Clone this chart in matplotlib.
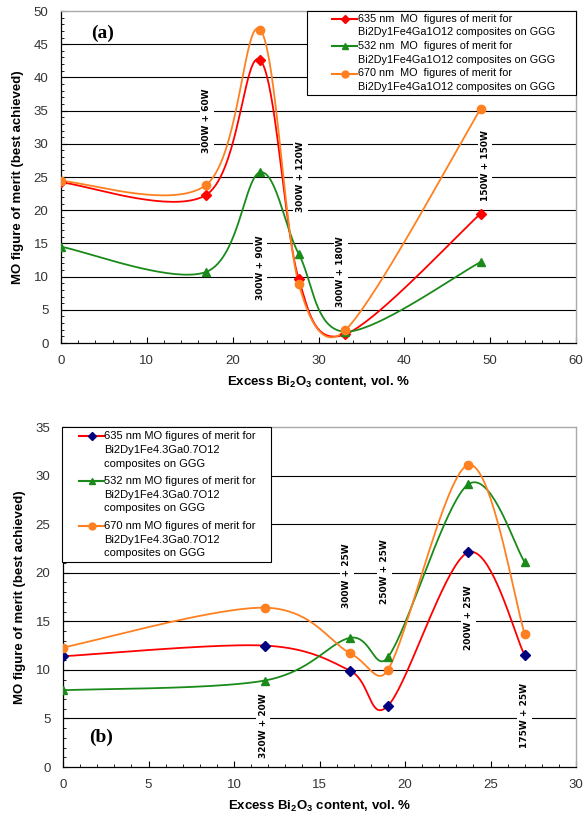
import numpy as np
import matplotlib
matplotlib.use("Agg")
import matplotlib.pyplot as plt
from matplotlib.patches import Rectangle
from matplotlib import font_manager

# ---------------- data ----------------
xa = [0, 16.9, 23.2, 27.7, 33.1, 48.9]
a635 = [24.2, 22.3, 42.6, 9.6, 1.3, 19.5]
a532 = [14.5, 10.7, 25.7, 13.4, 1.7, 12.2]
a670 = [24.4, 23.8, 47.2, 8.9, 1.9, 35.3]

xb = [0, 11.8, 16.8, 19.0, 23.7, 27.0]
b635 = [11.4, 12.5, 9.9, 6.3, 22.1, 11.5]
b532 = [7.9, 8.9, 13.3, 11.3, 29.1, 21.1]
b670 = [12.3, 16.4, 11.7, 10.0, 31.1, 13.7]

labels_a = [["635 nm  MO  figures of merit for", "Bi2Dy1Fe4Ga1O12 composites on GGG"],
            ["532 nm  MO  figures of merit for", "Bi2Dy1Fe4Ga1O12 composites on GGG"],
            ["670 nm  MO  figures of merit for", "Bi2Dy1Fe4Ga1O12 composites on GGG"]]
labels_b = [["635 nm MO figures of merit for", "Bi2Dy1Fe4.3Ga0.7O12", "composites on GGG"],
            ["532 nm MO figures of merit for", "Bi2Dy1Fe4.3Ga0.7O12", "composites on GGG"],
            ["670 nm MO figures of merit for", "Bi2Dy1Fe4.3Ga0.7O12", "composites on GGG"]]

ann_a = [("300W + 60W", 17.0, 33.4), ("300W + 120W", 27.9, 25.0),
         ("300W + 90W", 23.2, 11.3), ("300W + 180W", 32.6, 10.7),
         ("150W + 150W", 49.4, 26.7)]
ann_b = [("320W + 20W", 11.7, 4.3), ("300W + 25W", 16.6, 19.7),
         ("250W + 25W", 18.8, 20.1), ("200W + 25W", 23.7, 15.4),
         ("175W + 25W", 27.0, 5.3)]

RED = "#ff0000"
GREEN = "#1a8a1a"
ORANGE = "#ff8020"
NAVY = "#000080"

plt.rcParams['font.family'] = ['Liberation Sans', 'DejaVu Sans']
names = {f.name for f in font_manager.fontManager.ttflist}
TICKFONT = 'Liberation Sans Narrow' if 'Liberation Sans Narrow' in names else 'Liberation Sans'
TICKSIZE = 10.5 if TICKFONT == 'Liberation Sans Narrow' else 9.5

W, H = 584, 817


def smooth(ax, x, y, n=40):
    """Excel-style smoothed line (Bezier through points, computed in pixel space)."""
    pts = ax.transData.transform(np.column_stack([x, y]))
    P = np.vstack([pts[0], pts, pts[-1]])
    out = []
    t = np.linspace(0, 1, n)[:, None]
    for i in range(1, len(P) - 2):
        p0, p3 = P[i], P[i + 1]
        seglen = np.hypot(*(p3 - p0))
        v1 = P[i + 1] - P[i - 1]
        v2 = P[i + 2] - P[i]
        l1, l2 = np.hypot(*v1), np.hypot(*v2)
        f1 = 1 / 6.0 if l1 / 6.0 <= seglen / 2 else seglen / (2 * l1)
        f2 = 1 / 6.0 if l2 / 6.0 <= seglen / 2 else seglen / (2 * l2)
        p1 = p0 + v1 * f1
        p2 = p3 - v2 * f2
        seg = ((1 - t) ** 3) * p0 + 3 * ((1 - t) ** 2) * t * p1 + 3 * (1 - t) * t ** 2 * p2 + t ** 3 * p3
        out.append(seg)
    curve = np.vstack(out)
    d = ax.transData.inverted().transform(curve)
    return d[:, 0], d[:, 1]


fig = plt.figure(figsize=(W / 100, H / 100), dpi=100)


def setup(ax, xmax, ymax, xmaj, xmin_step):
    ax.set_xlim(0, xmax)
    ax.set_ylim(0, ymax)
    ax.set_xticks(np.arange(0, xmax + 0.01, xmaj))
    ax.set_xticks(np.arange(0, xmax + 0.01, xmin_step), minor=True)
    ax.set_yticks(np.arange(0, ymax + 0.01, 5))
    ax.set_yticks(np.arange(0, ymax + 0.01, 1), minor=True)
    ax.tick_params(which='both', direction='in', labelcolor='#333333')
    ax.tick_params(axis='y', pad=9)
    ax.tick_params(axis='x', pad=9)
    ax.tick_params(which='major', length=4, width=0.8)
    ax.tick_params(which='minor', length=2.5, width=0.6)
    for lab in ax.get_xticklabels() + ax.get_yticklabels():
        lab.set_family(TICKFONT)
        lab.set_fontsize(TICKSIZE)
    for g in np.arange(5, ymax, 5):
        ax.axhline(g, color='black', lw=0.8, zorder=0)
    for s in ['top', 'right']:
        ax.spines[s].set_color('#aaaaaa')
        ax.spines[s].set_linewidth(1.0)
    for s in ['left', 'bottom']:
        ax.spines[s].set_color('black')
        ax.spines[s].set_linewidth(0.9)
    ax.set_xlabel("Excess Bi$_\\mathregular{2}$O$_\\mathregular{3}$ content, vol. %",
                  fontsize=9.5, fontweight='bold', labelpad=5)
    ax.set_ylabel("MO figure of merit (best achieved)", fontsize=9.5, fontweight='bold', labelpad=7)


def annotate(ax, anns):
    for txt, x, y in anns:
        ax.text(x, y, txt, rotation=90, ha='center', va='center', fontsize=6.5,
                fontweight='bold', family='DejaVu Sans', zorder=1,
                bbox=dict(facecolor='white', edgecolor='none', pad=2))


def fx(px):
    return px / W


def fy(py):
    return 1 - py / H


def manual_legend(box, entries, hx0, hx1, tx, line_ys, fs):
    """box in pixel (x0, y0, x1, y1); entries: (linecolor, markercolor, marker, ms, lines)."""
    x0, y0, x1, y1 = box
    fig.add_artist(Rectangle((fx(x0), fy(y1)), fx(x1) - fx(x0), fy(y0) - fy(y1),
                             transform=fig.transFigure, facecolor='white', edgecolor='black',
                             lw=0.8, zorder=9))
    k = 0
    for (lc, mc, mk, ms, lines) in entries:
        yy = fy(line_ys[k])
        fig.add_artist(plt.Line2D([fx(hx0), fx(hx1)], [yy, yy], color=lc, lw=1.5,
                                  transform=fig.transFigure, zorder=10))
        fig.add_artist(plt.Line2D([fx((hx0 + hx1) / 2)], [yy], color=mc, marker=mk, ms=ms,
                                  linestyle='none', transform=fig.transFigure, zorder=11))
        for ln in lines:
            fig.text(fx(tx), fy(line_ys[k]), ln, fontsize=fs, ha='left', va='center', zorder=12)
            k += 1


# ---------- panel (a) ----------
axa = fig.add_axes([61 / W, 1 - 343 / H, 515 / W, 332 / H])
setup(axa, 60, 50, 10, 2)
annotate(axa, ann_a)
series_a = [(a635, RED, RED, 'D', 5), (a532, GREEN, GREEN, '^', 6), (a670, ORANGE, ORANGE, 'o', 6)]
entries = []
for (ys, lc, mc, mk, ms), lab in zip(series_a, labels_a):
    sx, sy = smooth(axa, xa, ys)
    axa.plot(sx, sy, color=lc, lw=1.3, zorder=3)
    axa.plot(xa, ys, linestyle='none', marker=mk, ms=ms, color=mc, zorder=4)
    entries.append((lc, mc, mk, ms - 1, lab))
manual_legend((307, 11, 576, 95), entries, 332, 357, 357.5,
              [18.5, 32, 46, 60, 73.5, 87], 7.8)
axa.text(4.8, 46.6, "(a)", fontsize=14, fontweight='bold', family='Liberation Serif',
         ha='center', va='center')

# ---------- panel (b) ----------
axb = fig.add_axes([63 / W, 1 - 767 / H, 513 / W, 340 / H])
setup(axb, 30, 35, 5, 1)
annotate(axb, ann_b)
series_b = [(b635, RED, NAVY, 'D', 5), (b532, GREEN, GREEN, '^', 6), (b670, ORANGE, ORANGE, 'o', 6)]
entries = []
for (ys, lc, mc, mk, ms), lab in zip(series_b, labels_b):
    sx, sy = smooth(axb, xb, ys)
    axb.plot(sx, sy, color=lc, lw=1.3, zorder=3)
    axb.plot(xb, ys, linestyle='none', marker=mk, ms=ms, color=mc, zorder=4)
    entries.append((lc, mc, mk, ms - 1, lab))
manual_legend((62, 427, 271, 562), entries, 79, 104, 104.5,
              [436, 450, 464, 481, 495, 508, 526, 540, 553], 8.0)
axb.text(2.2, 3.1, "(b)", fontsize=14, fontweight='bold', family='Liberation Serif',
         ha='center', va='center')

fig.savefig("out.png", dpi=100)
